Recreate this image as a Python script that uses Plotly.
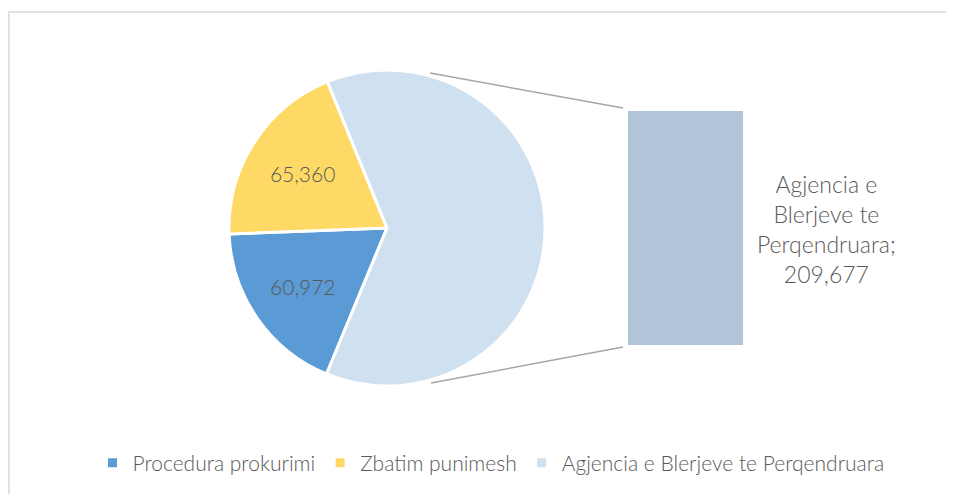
import plotly.graph_objects as go

# data
categories = ["Procedura prokurimi", "Zbatim punimesh", "Agjencia e Blerjeve te Perqendruara"]
values = [60972, 65360, 209677]
slice_colors = ["#5b9bd5", "#ffd966", "#cfe0f1"]
bar_label = ["Agjencia e", "Blerjeve te", "Perqendruara;"]

W, H = 954, 494
OFF = 8  # page body margin

FONT = "Lato"
TXT = "#595959"


def px(x):
    return (x - OFF) / W


def py(y):
    return 1 - (y - OFF) / H


fig = go.Figure()

fig.add_trace(
    go.Pie(
        labels=categories,
        values=values,
        sort=False,
        direction="clockwise",
        rotation=202.5,
        marker=dict(colors=slice_colors, line=dict(color="white", width=3)),
        texttemplate=["%{value:,}", "%{value:,}", ""],
        textposition="inside",
        insidetextorientation="horizontal",
        textfont=dict(family=FONT, size=21, color=TXT, weight=300),
        domain=dict(x=[px(387 - 158), px(387 + 158)], y=[py(228 + 158), py(228 - 158)]),
        hoverinfo="label+value",
        showlegend=True,
    )
)

# the split-out bar for the last slice
fig.add_trace(
    go.Bar(
        x=[categories[2]],
        y=[values[2]],
        marker=dict(color="#b1c4d8", line=dict(width=0)),
        width=1,
        showlegend=False,
        hoverinfo="y",
    )
)

fig.update_layout(
    width=W,
    height=H,
    margin=dict(l=0, r=0, t=0, b=0),
    paper_bgcolor="white",
    plot_bgcolor="rgba(0,0,0,0)",
    font=dict(family=FONT, color=TXT, size=21, weight=300),
    xaxis=dict(domain=[px(628), px(743)], visible=False, showgrid=False),
    yaxis=dict(domain=[py(345), py(111)], range=[0, values[2]], visible=False, showgrid=False),
    bargap=0,
    legend=dict(
        orientation="h",
        x=px(491),
        xanchor="center",
        y=py(463),
        yanchor="middle",
        font=dict(family=FONT, size=21, color=TXT, weight=300),
        itemwidth=30,
        traceorder="normal",
    ),
)

# connector lines pie -> bar
line_style = dict(color="#a6a6a6", width=1.5)
fig.add_shape(type="line", xref="paper", yref="paper",
              x0=px(430), y0=py(73), x1=px(623), y1=py(108), line=line_style)
fig.add_shape(type="line", xref="paper", yref="paper",
              x0=px(431), y0=py(383), x1=px(623), y1=py(347), line=line_style)

# chart area border
fig.add_shape(type="rect", xref="paper", yref="paper",
              x0=px(9), y0=-0.05, x1=1.05, y1=py(12),
              line=dict(color="#d9d9d9", width=1.5), fillcolor="rgba(0,0,0,0)")

fig.add_annotation(
    xref="paper", yref="paper", x=px(826), y=py(229),
    xanchor="center", yanchor="middle",
    text="<br>".join(bar_label + [f"{values[2]:,}"]),
    showarrow=False, align="center",
    font=dict(family=FONT, size=23, color=TXT, weight=300),
)

fig.write_html("out.html")
